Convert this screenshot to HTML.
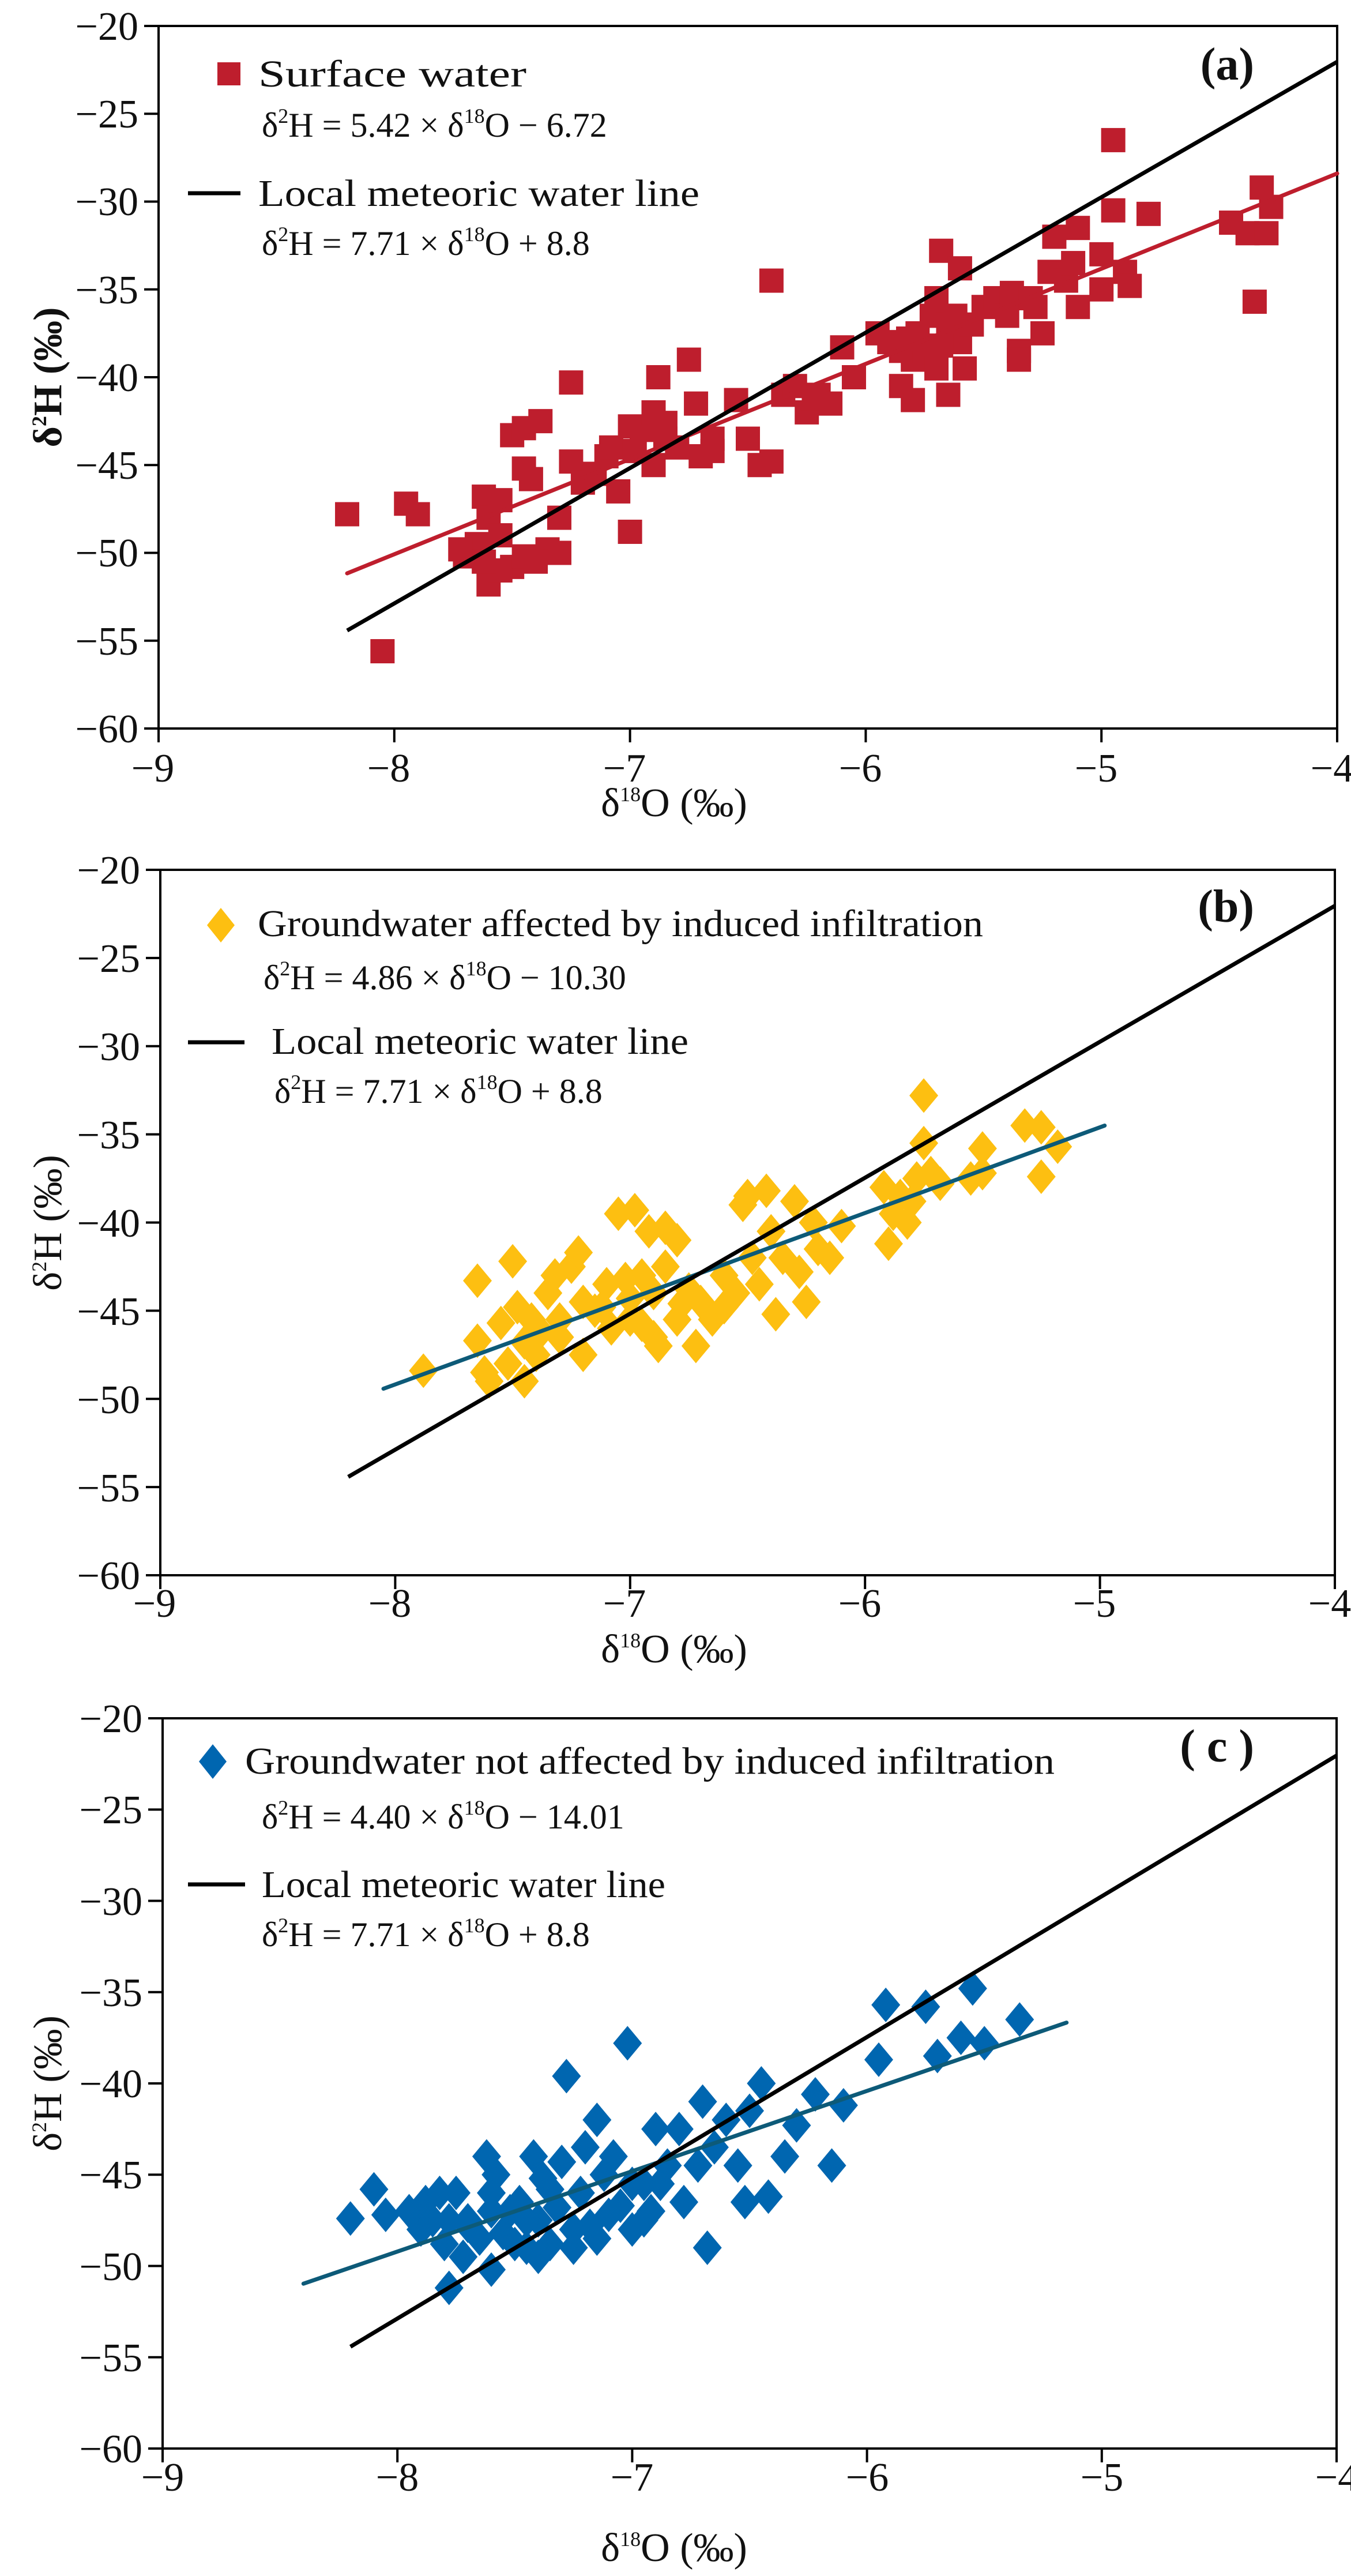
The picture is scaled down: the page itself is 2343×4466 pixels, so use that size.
<!DOCTYPE html>
<html><head><meta charset="utf-8"><style>
html,body{margin:0;padding:0;background:#fff;}
svg{display:block;}
text{font-family:"Liberation Serif",serif;fill:#111;}
.tk{font-size:70px;}
.lg{font-size:66px;}
.eq{font-size:60px;}
.sup{font-size:36px;}
.pl{font-size:80px;font-weight:bold;}
</style></head><body>
<svg id="s" width="2343" height="4466" viewBox="0 0 2343 4466" xmlns="http://www.w3.org/2000/svg">
<rect width="2343" height="4466" fill="#fff"/>
<g id="g"></g>

<!-- Panel a texts -->
<g class="tk" text-anchor="end">
<text x="240" y="69">−20</text><text x="240" y="221">−25</text><text x="240" y="373">−30</text><text x="240" y="526">−35</text><text x="240" y="678">−40</text><text x="240" y="830">−45</text><text x="240" y="982">−50</text><text x="240" y="1135">−55</text><text x="240" y="1287">−60</text>
</g>
<g class="tk" text-anchor="middle">
<text x="265" y="1355">−9</text><text x="674" y="1355">−8</text><text x="1083" y="1355">−7</text><text x="1492" y="1355">−6</text><text x="1901" y="1355">−5</text><text x="2310" y="1355">−4</text>
</g>
<text class="tk" x="1169" y="1415" text-anchor="middle">δ<tspan class="sup" dy="-26">18</tspan><tspan dy="26">O (‰)</tspan></text>
<text class="tk" transform="translate(106,654) rotate(-90)" text-anchor="middle" font-weight="bold">δ<tspan class="sup" dy="-26">2</tspan><tspan dy="26">H (‰)</tspan></text>
<text class="pl" x="2175" y="138" text-anchor="end">(a)</text>
<rect x="377" y="108" width="40" height="40" fill="#BE1E2D"/>
<text class="lg" x="448" y="150" textLength="465" lengthAdjust="spacingAndGlyphs">Surface water</text>
<text class="eq" x="454" y="237">δ<tspan class="sup" dy="-24">2</tspan><tspan dy="24">H = 5.42 × δ</tspan><tspan class="sup" dy="-24">18</tspan><tspan dy="24">O − 6.72</tspan></text>
<line x1="326" y1="335" x2="417" y2="335" stroke="#000" stroke-width="7"/>
<text class="lg" x="448" y="357" textLength="765" lengthAdjust="spacingAndGlyphs">Local meteoric water line</text>
<text class="eq" x="454" y="442">δ<tspan class="sup" dy="-24">2</tspan><tspan dy="24">H = 7.71 × δ</tspan><tspan class="sup" dy="-24">18</tspan><tspan dy="24">O + 8.8</tspan></text>

<!-- Panel b texts -->
<g class="tk" text-anchor="end">
<text x="243" y="1532">−20</text><text x="243" y="1685">−25</text><text x="243" y="1838">−30</text><text x="243" y="1991">−35</text><text x="243" y="2144">−40</text><text x="243" y="2297">−45</text><text x="243" y="2450">−50</text><text x="243" y="2603">−55</text><text x="243" y="2755">−60</text>
</g>
<g class="tk" text-anchor="middle">
<text x="268" y="2803">−9</text><text x="676" y="2803">−8</text><text x="1083" y="2803">−7</text><text x="1491" y="2803">−6</text><text x="1898" y="2803">−5</text><text x="2306" y="2803">−4</text>
</g>
<text class="tk" x="1169" y="2882" text-anchor="middle">δ<tspan class="sup" dy="-26">18</tspan><tspan dy="26">O (‰)</tspan></text>
<text class="tk" transform="translate(106,2120) rotate(-90)" text-anchor="middle">δ<tspan class="sup" dy="-26">2</tspan><tspan dy="26">H (‰)</tspan></text>
<text class="pl" x="2175" y="1598" text-anchor="end">(b)</text>
<polygon points="383,1574 407,1604 383,1634 359,1604" fill="#FDBF11"/>
<text class="lg" x="447" y="1623" textLength="1258" lengthAdjust="spacingAndGlyphs">Groundwater affected by induced infiltration</text>
<text class="eq" x="457" y="1715">δ<tspan class="sup" dy="-24">2</tspan><tspan dy="24">H = 4.86 × δ</tspan><tspan class="sup" dy="-24">18</tspan><tspan dy="24">O − 10.30</tspan></text>
<line x1="326" y1="1807" x2="424" y2="1807" stroke="#000" stroke-width="7"/>
<text class="lg" x="471" y="1827" textLength="723" lengthAdjust="spacingAndGlyphs">Local meteoric water line</text>
<text class="eq" x="476" y="1912">δ<tspan class="sup" dy="-24">2</tspan><tspan dy="24">H = 7.71 × δ</tspan><tspan class="sup" dy="-24">18</tspan><tspan dy="24">O + 8.8</tspan></text>

<!-- Panel c texts -->
<g class="tk" text-anchor="end">
<text x="247" y="3003">−20</text><text x="247" y="3161">−25</text><text x="247" y="3320">−30</text><text x="247" y="3478">−35</text><text x="247" y="3636">−40</text><text x="247" y="3794">−45</text><text x="247" y="3953">−50</text><text x="247" y="4111">−55</text><text x="247" y="4269">−60</text>
</g>
<g class="tk" text-anchor="middle">
<text x="282" y="4318">−9</text><text x="689" y="4318">−8</text><text x="1096" y="4318">−7</text><text x="1504" y="4318">−6</text><text x="1911" y="4318">−5</text><text x="2318" y="4318">−4</text>
</g>
<text class="tk" x="1169" y="4440" text-anchor="middle">δ<tspan class="sup" dy="-26">18</tspan><tspan dy="26">O (‰)</tspan></text>
<text class="tk" transform="translate(106,3612) rotate(-90)" text-anchor="middle">δ<tspan class="sup" dy="-26">2</tspan><tspan dy="26">H (‰)</tspan></text>
<text class="pl" x="2175" y="3054" text-anchor="end">( c )</text>
<polygon points="369,3024 393,3054 369,3084 345,3054" fill="#0066B0"/>
<text class="lg" x="425" y="3075" textLength="1404" lengthAdjust="spacingAndGlyphs">Groundwater not affected by induced infiltration</text>
<text class="eq" x="454" y="3170">δ<tspan class="sup" dy="-24">2</tspan><tspan dy="24">H = 4.40 × δ</tspan><tspan class="sup" dy="-24">18</tspan><tspan dy="24">O − 14.01</tspan></text>
<line x1="326" y1="3267" x2="425" y2="3267" stroke="#000" stroke-width="7"/>
<text class="lg" x="454" y="3289" textLength="700" lengthAdjust="spacingAndGlyphs">Local meteoric water line</text>
<text class="eq" x="454" y="3374">δ<tspan class="sup" dy="-24">2</tspan><tspan dy="24">H = 7.71 × δ</tspan><tspan class="sup" dy="-24">18</tspan><tspan dy="24">O + 8.8</tspan></text>
</svg>
<script>
(function(){
var NS="http://www.w3.org/2000/svg",g=document.getElementById("g");
function el(n,a){var e=document.createElementNS(NS,n);for(var k in a)e.setAttribute(k,a[k]);g.appendChild(e);return e;}
var panels=[
 {L:275,R:2319,T:45,B:1263,mk:"sq",col:"#BE1E2D",fit:[5.42,-6.72,-8.2,-4.0],fc:"#BE1E2D",
  pts:[[-8.2,-47.8],[-8.05,-55.6],[-7.95,-47.2],[-7.9,-47.8],[-7.7,-50.2],[-7.65,-49.5],[-7.62,-46.8],[-7.6,-51.8],[-7.6,-48],[-7.55,-47],[-7.55,-49],[-7.5,-50.8],[-7.55,-51],[-7.45,-50.2],[-7.5,-43.3],[-7.45,-42.9],[-7.45,-45.2],[-7.42,-45.8],[-7.38,-42.5],[-7.35,-49.8],[-7.3,-48],[-7.3,-50],[-7.25,-40.3],[-7.25,-44.8],[-7.2,-46],[-7.15,-45.5],[-7.1,-44.5],[-7.08,-44],[-7.05,-46.5],[-7.0,-48.8],[-7,-42.8],[-6.95,-43],[-6.9,-42],[-6.88,-40],[-6.85,-43.5],[-6.9,-45],[-6.8,-44],[-6.75,-39],[-6.72,-41.5],[-6.7,-44.5],[-6.65,-43.5],[-6.55,-41.3],[-6.5,-43.5],[-6.45,-45],[-6.4,-44.8],[-6.4,-34.5],[-6.35,-41],[-6.3,-40.5],[-6.25,-42],[-6.2,-41],[-6.15,-41.5],[-6.1,-38.3],[-6.05,-40],[-5.95,-37.5],[-5.9,-38],[-5.85,-38.5],[-5.85,-40.5],[-5.8,-41.3],[-5.8,-39],[-5.78,-37.5],[-5.75,-38.5],[-5.72,-36.5],[-5.7,-39.5],[-5.7,-35.5],[-5.68,-32.8],[-5.65,-37],[-5.65,-41],[-5.6,-38],[-5.6,-33.8],[-5.58,-39.5],[-5.55,-37],[-5.5,-36],[-5.45,-35.5],[-5.4,-36.5],[-5.38,-35.2],[-5.35,-38.5],[-5.35,-39],[-5.3,-35.5],[-5.28,-36],[-5.25,-37.5],[-5.22,-34],[-5.2,-32],[-5.15,-34.5],[-5.12,-33.5],[-5.1,-31.5],[-5.1,-36],[-5,-33],[-5,-35],[-4.95,-30.5],[-4.95,-26.5],[-4.9,-34],[-4.88,-34.8],[-4.8,-30.7],[-4.45,-31.2],[-4.38,-31.8],[-4.35,-35.7],[-4.32,-29.2],[-4.3,-31.8],[-4.28,-30.3],[-7.62,-50.5],[-7.4,-50.5],[-7.72,-49.8],[-6.98,-44.2],[-6.85,-42.6],[-5.82,-37.8],[-5.62,-36.5],[-5.68,-38.2],[-6.22,-41.2],[-6.65,-44.2]]},
 {L:278,R:2315,T:1508,B:2731,mk:"di",col:"#FDBF11",fit:[4.86,-10.30,-8.05,-4.98],fc:"#0D5A78",
  pts:[[-7.88,-48.4],[-7.65,-43.3],[-7.65,-46.7],[-7.62,-48.5],[-7.6,-49],[-7.55,-45.7],[-7.52,-48],[-7.5,-42.2],[-7.48,-44.8],[-7.45,-46.8],[-7.45,-49],[-7.42,-45.5],[-7.4,-47.5],[-7.35,-44],[-7.32,-43],[-7.3,-45.5],[-7.3,-46.5],[-7.25,-42.5],[-7.22,-41.7],[-7.2,-44.5],[-7.2,-47.5],[-7.15,-45],[-7.1,-43.5],[-7.08,-46],[-7.05,-39.5],[-7.02,-43.2],[-7,-45.5],[-6.98,-39.3],[-6.95,-43],[-6.92,-40.5],[-6.9,-46.5],[-6.9,-44],[-6.88,-47],[-6.85,-40.3],[-6.85,-42.5],[-6.8,-45.5],[-6.8,-41],[-6.75,-43.8],[-6.72,-47],[-6.7,-44.5],[-6.65,-45.5],[-6.6,-43],[-6.55,-44],[-6.52,-39],[-6.5,-38.5],[-6.48,-42],[-6.45,-43.5],[-6.42,-38.2],[-6.4,-40.5],[-6.38,-45.2],[-6.35,-42],[-6.3,-38.8],[-6.28,-42.8],[-6.25,-44.5],[-6.22,-40],[-6.2,-41.5],[-6.15,-42],[-6.1,-40.2],[-5.92,-38],[-5.9,-41.2],[-5.88,-39.5],[-5.85,-38.5],[-5.82,-40],[-5.8,-38.8],[-5.78,-37.5],[-5.75,-32.8],[-5.75,-35.5],[-5.72,-37.2],[-5.68,-37.8],[-5.55,-37.5],[-5.5,-35.8],[-5.5,-37.2],[-5.32,-34.5],[-5.25,-34.6],[-5.25,-37.4],[-5.18,-35.7],[-7.0,-44.3],[-6.95,-45.8],[-7.12,-44.8],[-6.78,-44.6],[-7.38,-46.2],[-6.6,-44.8]]},
 {L:282,R:2318,T:2979,B:4245,mk:"di",col:"#0066B0",fit:[4.40,-14.01,-8.4,-5.15],fc:"#0D5A78",
  pts:[[-8.2,-47.4],[-8.1,-45.8],[-8.05,-47.2],[-7.95,-47],[-7.9,-48],[-7.88,-46.5],[-7.85,-47.5],[-7.82,-46],[-7.8,-48.8],[-7.78,-47.5],[-7.78,-51.2],[-7.75,-46],[-7.72,-49.5],[-7.7,-47.5],[-7.65,-48.5],[-7.62,-44],[-7.6,-47],[-7.6,-50.2],[-7.58,-45],[-7.55,-48.2],[-7.52,-47],[-7.5,-48.8],[-7.48,-46.5],[-7.45,-49],[-7.42,-44],[-7.4,-47.5],[-7.38,-45.2],[-7.35,-48.8],[-7.32,-46.8],[-7.3,-44.3],[-7.28,-39.6],[-7.25,-48],[-7.22,-46],[-7.2,-43.5],[-7.18,-47.8],[-7.15,-42],[-7.12,-45],[-7.1,-47.2],[-7.08,-44],[-7.05,-46.7],[-7.02,-37.8],[-7,-48],[-7,-45.5],[-6.95,-45.5],[-6.92,-47],[-6.9,-42.5],[-6.88,-45.5],[-6.85,-44.5],[-6.8,-42.5],[-6.78,-46.5],[-6.72,-44.5],[-6.7,-41],[-6.68,-49],[-6.65,-43.5],[-6.6,-42],[-6.55,-44.5],[-6.52,-46.5],[-6.5,-41.5],[-6.45,-40],[-6.42,-46.2],[-6.35,-44],[-6.3,-42.3],[-6.22,-40.6],[-6.15,-44.5],[-6.1,-41.2],[-5.95,-38.7],[-5.92,-35.7],[-5.75,-35.8],[-5.7,-38.5],[-5.6,-37.5],[-5.55,-34.8],[-5.5,-37.8],[-5.35,-36.5],[-7.35,-45.8],[-7.6,-46],[-7.7,-47.8],[-7.4,-49.5],[-7.15,-48.5],[-6.95,-47.5],[-7.25,-49],[-7.45,-47.5]]}
];
panels.forEach(function(p){
 function X(x){return p.L+(x+9)/5*(p.R-p.L);}
 function Y(y){return p.B-(y+60)/40*(p.B-p.T);}
 el("rect",{x:p.L,y:p.T,width:p.R-p.L,height:p.B-p.T,fill:"none",stroke:"#000","stroke-width":4});
 for(var v=-60;v<=-20;v+=5){var yy=Y(v);el("line",{x1:p.L-25,y1:yy,x2:p.L,y2:yy,stroke:"#000","stroke-width":4});}
 for(var u=-9;u<=-4;u++){var xx=X(u);el("line",{x1:xx,y1:p.B,x2:xx,y2:p.B+24,stroke:"#000","stroke-width":4});}
 p.pts.forEach(function(q){var cx=X(q[0]),cy=Y(q[1]);
  if(p.mk=="sq")el("rect",{x:cx-21,y:cy-21,width:42,height:42,fill:p.col});
  else el("polygon",{points:[cx,cy-30,cx+25,cy,cx,cy+30,cx-25,cy].join(","),fill:p.col});
 });
 var f=p.fit;
 el("line",{x1:X(f[2]),y1:Y(f[0]*f[2]+f[1]),x2:X(f[3]),y2:Y(f[0]*f[3]+f[1]),stroke:p.fc,"stroke-width":7,"stroke-linecap":"round"});
 el("line",{x1:X(-8.2),y1:Y(7.71*-8.2+8.8),x2:X(-4),y2:Y(7.71*-4+8.8),stroke:"#000","stroke-width":7});
});
})();
</script>
</body></html>
